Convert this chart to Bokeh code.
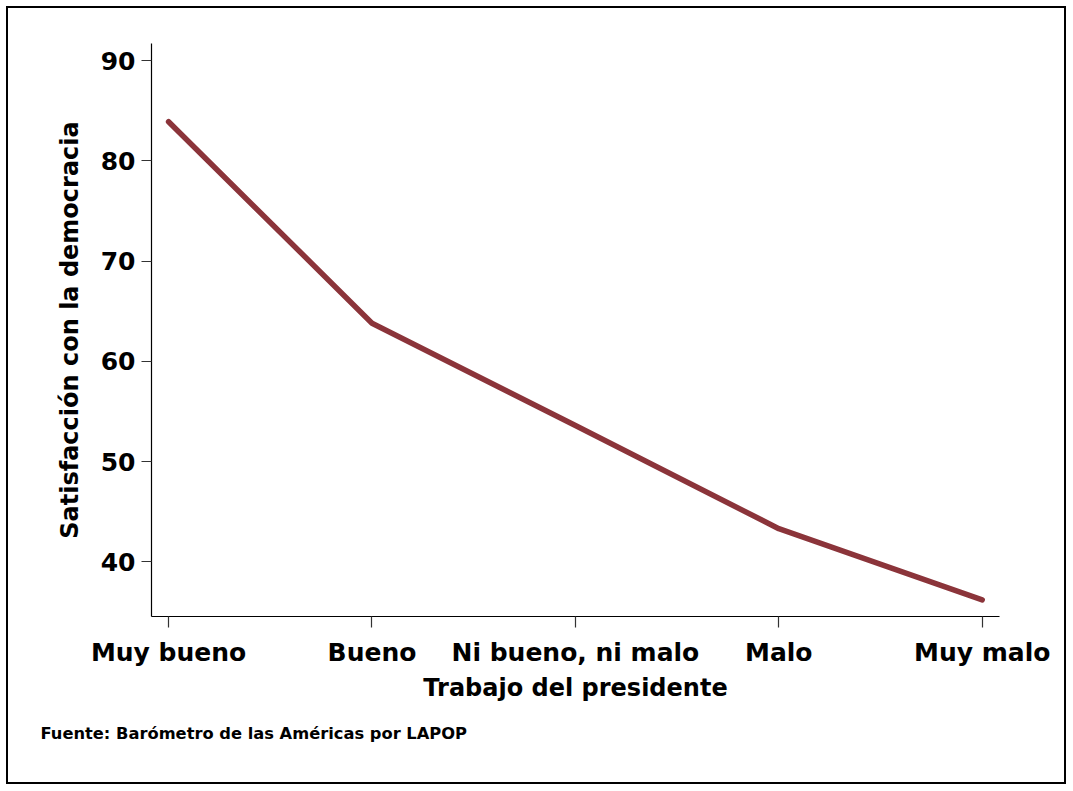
from bokeh.plotting import figure
from bokeh.models import Range1d, FixedTicker, Title
from bokeh.embed import file_html
from bokeh.resources import INLINE

categories = ["Muy bueno", "Bueno", "Ni bueno, ni malo", "Malo", "Muy malo"]
satisfaccion = [83.9, 63.8, 53.6, 43.3, 36.2]
y_ticks = [40, 50, 60, 70, 80, 90]

x_pos = list(range(len(categories)))

FONT = "DejaVu Sans"

p = figure(width=1060, height=778, output_backend="svg", toolbar_location=None,
           x_range=Range1d(-0.084, 4.085), y_range=Range1d(34.54, 91.7),
           min_border_left=143, min_border_top=35, min_border_right=69, min_border_bottom=170)
p.styles = {"border": "2px solid black", "margin": "6px"}
p.outline_line_color = None
p.xgrid.grid_line_color = None
p.ygrid.grid_line_color = None
p.background_fill_color = "white"
p.border_fill_color = "white"

p.line(x_pos, satisfaccion, line_color="#8B343A", line_width=5.5,
       line_cap="round", line_join="round")

p.xaxis.ticker = FixedTicker(ticks=x_pos)
p.xaxis.major_label_overrides = {i: c for i, c in zip(x_pos, categories)}
p.yaxis.ticker = FixedTicker(ticks=y_ticks)

for ax in (p.xaxis[0], p.yaxis[0]):
    ax.axis_line_color = "black"
    ax.axis_line_width = 1.2
    ax.major_tick_line_color = "#333333"
    ax.major_tick_line_width = 1.2
    ax.major_tick_in = 0
    ax.minor_tick_in = 0
    ax.minor_tick_out = 0
    ax.major_label_text_font = FONT
    ax.major_label_text_font_style = "bold"
    ax.major_label_text_font_size = "25px"
    ax.major_label_text_color = "black"
    ax.axis_label_text_font = FONT
    ax.axis_label_text_font_style = "bold"
    ax.axis_label_text_font_size = "24px"
    ax.axis_label_text_color = "black"

p.xaxis.major_tick_out = 11
p.yaxis.major_tick_out = 10
p.xaxis.major_label_standoff = 10
p.yaxis.major_label_standoff = 6
p.xaxis.axis_label = "Trabajo del presidente"
p.yaxis.axis_label = "Satisfacción con la democracia"
p.xaxis.axis_label_standoff = 4
p.yaxis.axis_label_standoff = 14

footer = Title(text="Fuente: Barómetro de las Américas por LAPOP",
               text_font=FONT, text_font_style="bold", text_font_size="16.3px",
               text_color="black", align="left", offset=-111, standoff=35)
p.add_layout(footer, "below")

open("out.html", "w").write(file_html(p, INLINE))
